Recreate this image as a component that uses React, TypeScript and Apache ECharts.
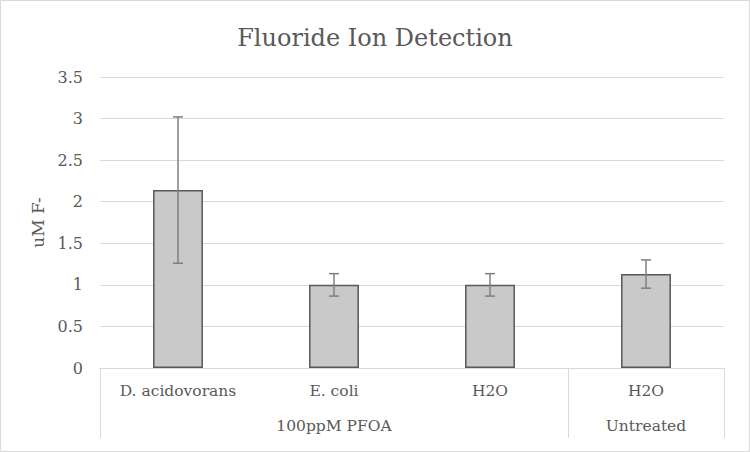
import React, { useEffect, useRef } from "react";
import * as echarts from "echarts";

const categories = ["D. acidovorans", "E. coli", "H2O", "H2O"];
const groups = ["", "100ppM PFOA", "", "Untreated"];
const groupBoundaries = [0, 3, 4];
const values = [2.14, 1.0, 1.0, 1.13];
const errors = [0.88, 0.135, 0.135, 0.17];

const FONT = "DejaVu Serif";
const TXT = "#595959";
const LINE = "#d9d9d9";

export default function App() {
  const ref = useRef<HTMLDivElement>(null);
  useEffect(() => {
    const chart = echarts.init(ref.current!, null, { renderer: "svg" });
    const errData = values.map((v, i) => [i, v - errors[i], v + errors[i]]);
    chart.setOption({
      animation: false,
      backgroundColor: "#ffffff",
      textStyle: { fontFamily: FONT },
      title: {
        text: "Fluoride Ion Detection",
        left: "center",
        top: 21,
        textStyle: { fontFamily: FONT, fontSize: 24, fontWeight: "normal", color: TXT },
      },
      graphic: [
        {
          type: "rect",
          shape: { x: 0.5, y: 0.5, width: 749, height: 451 },
          style: { fill: "none", stroke: LINE, lineWidth: 1 },
          silent: true,
        },
      ],
      grid: { left: 100, right: 26, top: 77, bottom: 84, containLabel: false },
      xAxis: [
        {
          type: "category",
          data: categories,
          axisLine: { lineStyle: { color: LINE, width: 1 } },
          axisTick: { show: false },
          axisLabel: { color: TXT, fontSize: 15.5, fontFamily: FONT, margin: 15, interval: 0 },
        },
        {
          type: "category",
          data: groups,
          position: "bottom",
          offset: 35,
          axisLine: { show: false },
          axisTick: { show: false },
          axisLabel: { color: TXT, fontSize: 15.5, fontFamily: FONT, margin: 15, interval: 0 },
        },
      ],
      yAxis: {
        type: "value",
        min: 0,
        max: 3.5,
        interval: 0.5,
        name: "uM F-",
        nameLocation: "middle",
        nameGap: 46,
        nameRotate: 90,
        nameTextStyle: { color: TXT, fontSize: 17, fontFamily: FONT },
        axisLine: { show: false },
        axisTick: { show: false },
        axisLabel: { color: TXT, fontSize: 16, fontFamily: FONT, margin: 17 },
        splitLine: { lineStyle: { color: LINE, width: 1 } },
      },
      series: [
        {
          type: "bar",
          data: values,
          barWidth: "32%",
          itemStyle: { color: "#c9c9c9", borderColor: "#595959", borderWidth: 1.5 },
          z: 2,
        },
        {
          type: "custom",
          data: errData,
          z: 3,
          renderItem: (params: any, api: any) => {
            const x = api.value(0);
            const lo = api.coord([x, api.value(1)]);
            const hi = api.coord([x, api.value(2)]);
            const cap = 5;
            const style = { stroke: "#7f7f7f", lineWidth: 1.5 };
            return {
              type: "group",
              children: [
                { type: "line", shape: { x1: lo[0], y1: lo[1], x2: hi[0], y2: hi[1] }, style },
                { type: "line", shape: { x1: lo[0] - cap, y1: lo[1], x2: lo[0] + cap, y2: lo[1] }, style },
                { type: "line", shape: { x1: hi[0] - cap, y1: hi[1], x2: hi[0] + cap, y2: hi[1] }, style },
              ],
            };
          },
        },
        {
          type: "custom",
          data: groupBoundaries.map((b) => [b]),
          z: 3,
          clip: false,
          renderItem: (params: any, api: any) => {
            const b = api.value(0);
            const idx = Math.min(b, categories.length - 1);
            const c = api.coord([idx, 0]);
            const w = api.size([1, 0])[0];
            const x = b < categories.length ? c[0] - w / 2 : c[0] + w / 2;
            return {
              type: "line",
              shape: { x1: Math.round(x) + 0.5, y1: c[1], x2: Math.round(x) + 0.5, y2: c[1] + 70 },
              style: { stroke: LINE, lineWidth: 1 },
            };
          },
        },
      ],
    });
    return () => chart.dispose();
  }, []);
  return (
    <div
      ref={ref}
      style={{ position: "absolute", left: 0, top: 0, width: 750, height: 452 }}
    />
  );
}
